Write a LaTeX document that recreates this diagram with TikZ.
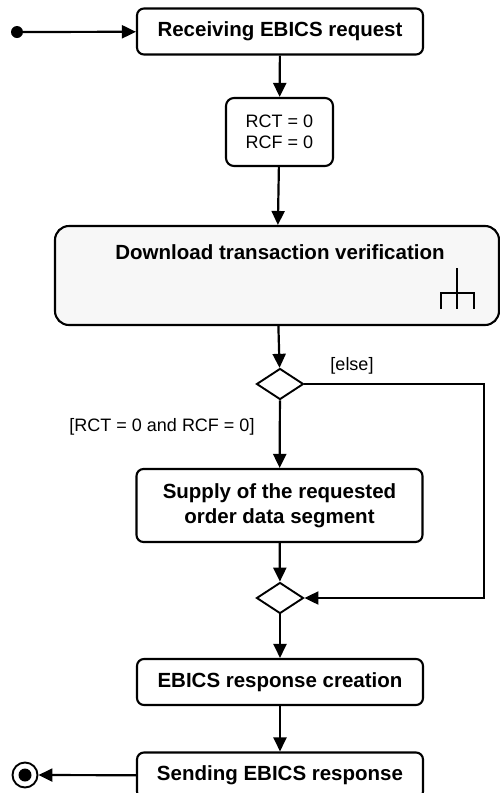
\documentclass[tikz,border=0pt]{standalone}
\usepackage{fontspec}
\setmainfont{Liberation Sans}
\usetikzlibrary{arrows.meta,shapes.geometric}
\definecolor{actfill}{HTML}{F7F7F7}
\tikzset{
  act/.style={rectangle,rounded corners=7pt,draw=black,fill=white,line width=2.1pt,minimum width=286pt,minimum height=46pt,font=\fontsize{20.5}{25}\selectfont\bfseries,align=center},
  assign/.style={rectangle,rounded corners=8pt,draw=black,fill=white,line width=2.1pt,minimum width=107pt,minimum height=68pt,font=\fontsize{18}{21}\selectfont,align=center},
  subact/.style={rectangle,rounded corners=14pt,draw=black,fill=actfill,line width=2.1pt,minimum width=444pt,minimum height=99pt},
  decision/.style={diamond,draw=black,fill=white,line width=1.9pt,inner sep=0pt,minimum width=47pt,minimum height=31pt},
  startdot/.style={circle,fill=black,inner sep=0pt,minimum size=12pt},
  flow/.style={-{Triangle[length=14pt,width=13pt]},draw=black,line width=2.2pt},
  guard/.style={font=\fontsize{18}{21}\selectfont},
}
\begin{document}
\begin{tikzpicture}[x=1pt,y=-1pt]
  \useasboundingbox (0,0) rectangle (500,793);
  % nodes
  \node[startdot] (start) at (17,32) {};
  \node[act] (recv) at (280,31.5) {Receiving EBICS request};
  \node[assign] (init) at (279.5,132) {RCT = 0\\RCF = 0};
  \node[subact] (dtv) at (277,275.5) {};
  \node[font=\fontsize{20.5}{25}\selectfont\bfseries] (dtvtitle) at (280,252) {Download transaction verification};
  \node[decision] (dec1) at (280,384) {};
  \node[act,minimum height=73pt] (supply) at (279.5,505.5) {Supply of the requested\\order data segment};
  \node[decision] (dec2) at (280,598) {};
  \node[act] (create) at (280,682) {EBICS response creation};
  \node[act] (send) at (280,775.5) {Sending EBICS response};
  \node[circle,draw=black,line width=1.9pt,fill=white,minimum size=25pt,inner sep=0pt] (end) at (25,775) {};
  \fill (end.center) circle (6.5pt);
  \coordinate (elsec) at (484,384);
  % rake icon
  \draw[line width=1.6pt] (457,268) -- (457,309);
  \draw[line width=1.6pt] (441,309) -- (441,293) -- (474,293) -- (474,309);
  % flows
  \draw[flow] (start) -- (recv);
  \draw[flow] (recv) -- (init);
  \draw[flow] (init) -- (dtv);
  \draw[flow] (dtv) -- (dec1);
  \draw[flow] (dec1) -- (supply);
  \draw[flow] (supply) -- (dec2);
  \draw[flow] (dec1.east) -- (elsec) |- (dec2.east);
  \draw[flow] (dec2) -- (create);
  \draw[flow] (create) -- (send);
  \draw[flow] (send) -- (end);
  % guards
  \node[guard] (elselbl) at (352,366) {[else]};
  \node[guard] (oklbl) at (162,427) {[RCT = 0 and RCF = 0]};
\end{tikzpicture}
\end{document}
